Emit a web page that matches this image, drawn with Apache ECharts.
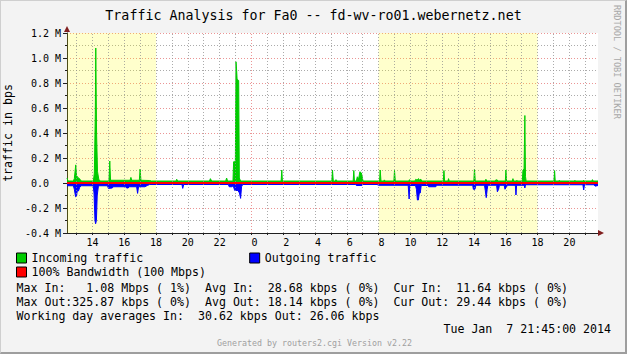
<!DOCTYPE html>
<html>
<head>
<meta charset="utf-8">
<title>Traffic Analysis for Fa0</title>
<script src="https://cdn.jsdelivr.net/npm/echarts@6/dist/echarts.min.js"></script>
<style>
  html, body { margin: 0; padding: 0; background: #f3f3f3; }
  #wrap { position: relative; width: 627px; height: 354px; }
  #chart { position: absolute; left: 0; top: 0; width: 627px; height: 354px; }
  #frame {
    position: absolute; left: 0; top: 0; width: 627px; height: 354px;
    box-sizing: border-box; pointer-events: none;
    border-top: 1px solid #cfcfcf; border-left: 1px solid #cfcfcf;
    border-right: 2px solid #9e9e9e; border-bottom: 2px solid #9e9e9e;
  }
</style>
</head>
<body>
<div id="wrap">
  <div id="chart"></div>
  <div id="frame"></div>
</div>
<script>
// x values are hours counted from Jan 6 00:00 (24 = midnight to Jan 7)
const xMin = 12.4
const xMax = 45.8
const labelHours = [14, 16, 18, 20, 22, 24, 26, 28, 30, 32, 34, 36, 38, 40, 42, 44]
const gridHours = [13, 14, 15, 16, 17, 18, 19, 20, 21, 22, 23, 24, 25, 26, 27, 28, 29,
  30, 31, 32, 33, 34, 35, 36, 37, 38, 39, 40, 41, 42, 43, 44, 45]
const midnightHours = [24]
const workHours = [[8, 18], [32, 42]]

// values in M (million bits per second)
const incoming = [
  [12.40, 0.040], [12.46, 0.016], [12.80, 0.016], [12.86, 0.035], [12.95, 0.145], [13.00, 0.060],
  [13.08, 0.045], [13.22, 0.030], [13.30, 0.016],
  [14.06, 0.016], [14.12, 0.080], [14.18, 0.550], [14.21, 1.080], [14.26, 0.400], [14.32, 0.090],
  [14.40, 0.030], [14.48, 0.016],
  [15.04, 0.016], [15.09, 0.176], [15.14, 0.022], [16.37, 0.022], [16.42, 0.045], [16.47, 0.022],
  [16.95, 0.022], [17.00, 0.112], [17.05, 0.022], [17.60, 0.020], [17.70, 0.016],
  [19.26, 0.016], [19.30, 0.030], [19.36, 0.016], [21.36, 0.016], [21.42, 0.035], [21.50, 0.016],
  [22.38, 0.016], [22.44, 0.040], [22.50, 0.016],
  [22.84, 0.016], [22.88, 0.170], [22.99, 0.170], [23.03, 0.970], [23.07, 0.900], [23.10, 0.830],
  [23.20, 0.820], [23.24, 0.040], [23.32, 0.016],
  [25.87, 0.016], [25.91, 0.104], [25.95, 0.016],
  [29.06, 0.016], [29.10, 0.104], [29.15, 0.016], [29.28, 0.016], [29.32, 0.027], [29.38, 0.016],
  [30.40, 0.016], [30.44, 0.100], [30.48, 0.016], [30.60, 0.016], [30.66, 0.050], [30.74, 0.030],
  [30.82, 0.090], [30.92, 0.080], [31.02, 0.016],
  [32.06, 0.016], [32.10, 0.104], [32.15, 0.016], [32.32, 0.016], [32.36, 0.025], [32.40, 0.016],
  [32.96, 0.016], [33.00, 0.100], [33.05, 0.016],
  [33.90, 0.016], [33.94, 0.027], [33.98, 0.016],
  [34.28, 0.016], [34.34, 0.030], [34.42, 0.022], [34.50, 0.035], [34.58, 0.025], [34.66, 0.030],
  [34.72, 0.016],
  [36.07, 0.016], [36.11, 0.100], [36.15, 0.016], [36.36, 0.016], [36.40, 0.035], [36.44, 0.016],
  [37.99, 0.016], [38.03, 0.112], [38.08, 0.016], [38.71, 0.016], [38.75, 0.030], [38.80, 0.016],
  [39.33, 0.016], [39.37, 0.025], [39.46, 0.025], [39.50, 0.016],
  [39.97, 0.016], [40.01, 0.104], [40.05, 0.016], [40.41, 0.016], [40.45, 0.035], [40.49, 0.016],
  [40.66, 0.016], [40.70, 0.022], [40.74, 0.016],
  [41.04, 0.016], [41.08, 0.104], [41.15, 0.110], [41.20, 0.540], [41.24, 0.050], [41.28, 0.016],
  [43.03, 0.016], [43.07, 0.100], [43.11, 0.016], [43.32, 0.016], [43.36, 0.022], [43.40, 0.016],
  [44.31, 0.016], [44.35, 0.022], [44.39, 0.016], [44.86, 0.016], [44.90, 0.022], [44.94, 0.016],
  [45.41, 0.016], [45.45, 0.027], [45.50, 0.016], [45.80, 0.016]
]

const outgoing = [
  [12.40, -0.022], [12.80, -0.022], [12.86, -0.050], [12.94, -0.110], [13.00, -0.105], [13.05, -0.060],
  [13.12, -0.064], [13.20, -0.035], [13.28, -0.022],
  [14.05, -0.022], [14.10, -0.080], [14.16, -0.300], [14.20, -0.326], [14.25, -0.300], [14.30, -0.100],
  [14.37, -0.030], [14.45, -0.022],
  [14.95, -0.022], [15.00, -0.043], [15.25, -0.040], [15.30, -0.030], [16.10, -0.030], [16.15, -0.040],
  [16.25, -0.040], [16.30, -0.030], [16.78, -0.030], [16.84, -0.083], [16.90, -0.030], [17.30, -0.030],
  [17.45, -0.020], [17.60, -0.012],
  [19.63, -0.012], [19.68, -0.043], [19.74, -0.012],
  [22.55, -0.012], [22.60, -0.030], [22.77, -0.030], [22.85, -0.022], [22.95, -0.060], [23.15, -0.060],
  [23.25, -0.080], [23.32, -0.123], [23.38, -0.030], [23.45, -0.012],
  [30.55, -0.012], [30.60, -0.020], [30.95, -0.020], [31.00, -0.012],
  [31.90, -0.012], [32.00, -0.018],
  [33.86, -0.018], [33.92, -0.128], [33.96, -0.020],
  [34.32, -0.020], [34.38, -0.050], [34.44, -0.136], [34.50, -0.136], [34.56, -0.080], [34.62, -0.080],
  [34.68, -0.020],
  [35.10, -0.020], [35.15, -0.030], [35.60, -0.030], [35.65, -0.018],
  [37.92, -0.018], [37.96, -0.050], [38.06, -0.050], [38.12, -0.018],
  [38.66, -0.018], [38.71, -0.060], [38.77, -0.117], [38.83, -0.050], [38.87, -0.018],
  [39.42, -0.018], [39.47, -0.070], [39.55, -0.050], [39.60, -0.018],
  [39.90, -0.018], [39.95, -0.050], [40.05, -0.030], [40.10, -0.018],
  [40.60, -0.018], [40.64, -0.096], [40.68, -0.018],
  [41.16, -0.018], [41.20, -0.040], [41.24, -0.014],
  [44.85, -0.014], [44.90, -0.056], [44.95, -0.014], [45.55, -0.014], [45.62, -0.025], [45.80, -0.020]
]

// 100 Mbps bandwidth rule (far above the visible range), plus the red zero rule
const bandwidthLevel = 100
const zeroRule = 0

const statLines = [
  'Max In:   1.08 Mbps ( 1%)  Avg In:  28.68 kbps ( 0%)  Cur In:  11.64 kbps ( 0%)',
  'Max Out:325.87 kbps ( 0%)  Avg Out: 18.14 kbps ( 0%)  Cur Out: 29.44 kbps ( 0%)',
  'Working day averages In:  30.62 kbps Out: 26.06 kbps'
]
const stampText = 'Tue Jan  7 21:45:00 2014'
const footerText = 'Generated by routers2.cgi Version v2.22'
const sideText = 'RRDTOOL / TOBI OETIKER'

const mono = '"DejaVu Sans Mono", "Liberation Mono", monospace'
const keep = s => s.replace(/ /g, '\u00a0')

const minorGrid = { color: 'rgba(143,143,143,0.75)', width: 1, type: [1, 2] }
const majorGrid = { color: 'rgba(222,79,79,0.6)', width: 1, type: [1, 2] }

const chart = echarts.init(document.getElementById('chart'), null, { renderer: 'svg' })

const option = {
  animation: false,
  backgroundColor: 'transparent',
  title: {
    text: 'Traffic Analysis for Fa0 -- fd-wv-ro01.webernetz.net',
    left: 'center',
    top: 9,
    padding: 0,
    textStyle: { fontFamily: mono, fontSize: 13.3, fontWeight: 'normal', color: '#000' }
  },
  grid: {
    left: 67, right: 29, top: 33, bottom: 121,
    outerBoundsMode: 'none', containLabel: false,
    show: true, backgroundColor: '#fff', borderWidth: 0
  },
  legend: [
    {
      data: ['Incoming traffic', 'Outgoing traffic'],
      left: 16, top: 252, padding: 0, itemGap: 106,
      itemWidth: 10, itemHeight: 10, icon: 'rect', selectedMode: false,
      itemStyle: { borderColor: '#000', borderWidth: 1 },
      textStyle: { fontFamily: mono, fontSize: 11.6, color: '#000' }
    },
    {
      data: ['100% Bandwidth (100 Mbps)'],
      left: 16, top: 266, padding: 0,
      itemWidth: 10, itemHeight: 10, icon: 'rect', selectedMode: false,
      itemStyle: { borderColor: '#000', borderWidth: 1 },
      textStyle: { fontFamily: mono, fontSize: 11.6, color: '#000' }
    }
  ],
  xAxis: [
    {
      type: 'value', min: xMin, max: xMax,
      axisLine: { show: true, onZero: false, lineStyle: { color: '#1f1f1f', width: 1 } },
      axisTick: { show: true, customValues: gridHours, length: 2, lineStyle: { color: '#1f1f1f' } },
      axisLabel: {
        customValues: labelHours, margin: 4,
        fontFamily: mono, fontSize: 10, color: '#000',
        formatter: v => { const h = v % 24; return h < 10 ? '\u00a0' + h : String(h) }
      },
      splitLine: { show: false }
    },
    {
      // arrow head only
      type: 'value', min: xMin, max: xMax, position: 'bottom',
      axisLine: { show: true, onZero: false, symbol: ['none', 'triangle'], symbolSize: [6, 6], symbolOffset: [0, 3],
        lineStyle: { color: '#801f1f', width: 0 } },
      axisTick: { show: false }, axisLabel: { show: false }, splitLine: { show: false }
    }
  ],
  yAxis: [
    {
      type: 'value', min: -0.4, max: 1.2, interval: 0.2,
      name: 'traffic in bps', nameLocation: 'middle', nameGap: 49,
      nameTextStyle: { fontFamily: mono, fontSize: 11.6, color: '#000' },
      axisLine: { show: true, onZero: false, lineStyle: { color: '#1f1f1f', width: 1 } },
      axisTick: { show: true, length: 4, lineStyle: { color: '#1f1f1f' } },
      minorTick: { show: true, splitNumber: 2, length: 2, lineStyle: { color: '#1f1f1f' } },
      axisLabel: {
        margin: 6, fontFamily: mono, fontSize: 10, color: '#000',
        formatter: v => Math.abs(v) < 1e-9 ? '0.0\u00a0\u00a0' : v.toFixed(1) + '\u00a0M'
      },
      splitLine: { show: true, lineStyle: majorGrid },
      minorSplitLine: { show: true, lineStyle: minorGrid }
    },
    {
      type: 'value', min: -0.4, max: 1.2, position: 'left', offset: 0,
      axisLine: { show: true, onZero: false, symbol: ['none', 'triangle'], symbolSize: [6, 6], symbolOffset: [0, 4],
        lineStyle: { color: '#801f1f', width: 0 } },
      axisTick: { show: false }, axisLabel: { show: false }, splitLine: { show: false }
    }
  ],
  graphic: [
    ...statLines.map((t, i) => ({
      type: 'text', x: 16.5, y: 287.5 + i * 14, silent: true,
      style: { text: keep(t), font: '11.6px ' + mono, fill: '#000', verticalAlign: 'middle' }
    })),
    {
      type: 'text', x: 611, y: 329, silent: true,
      style: { text: keep(stampText), font: '11.6px ' + mono, fill: '#000', align: 'right', verticalAlign: 'middle' }
    },
    {
      type: 'text', x: 314.5, y: 343, silent: true,
      style: { text: keep(footerText), font: '8.3px ' + mono, fill: '#a0a0a0', align: 'center', verticalAlign: 'middle' }
    },
    {
      type: 'text', x: 617, y: 5, rotation: -Math.PI / 2, silent: true,
      style: { text: keep(sideText), font: '8.6px ' + mono, fill: '#a8a8a8', align: 'left', verticalAlign: 'middle' }
    }
  ],
  series: [
    {
      name: 'work hours', type: 'line', data: [], z: 1, silent: true,
      markArea: {
        silent: true,
        itemStyle: { color: 'rgba(255,255,0,0.2)' },
        data: workHours.map(([a, b]) => [{ xAxis: Math.max(a, xMin) }, { xAxis: Math.min(b, xMax) }])
      }
    },
    {
      name: 'hour grid', type: 'line', data: [], z: 1, silent: true,
      markLine: {
        silent: true, symbol: 'none', label: { show: false },
        data: gridHours.map(h => ({ xAxis: h, lineStyle: midnightHours.includes(h) ? majorGrid : minorGrid }))
      }
    },
    {
      name: 'Incoming traffic', type: 'line', data: incoming, symbol: 'none', z: 2,
      lineStyle: { color: '#00cc00', width: 1 },
      itemStyle: { color: '#00cc00' },
      areaStyle: { color: '#00cc00', opacity: 1 }
    },
    {
      name: 'Outgoing traffic', type: 'line', data: outgoing, symbol: 'none', z: 2,
      lineStyle: { color: '#0000ff', width: 1 },
      itemStyle: { color: '#0000ff' },
      areaStyle: { color: '#0000ff', opacity: 1 }
    },
    {
      name: '100% Bandwidth (100 Mbps)', type: 'line', symbol: 'none', z: 3,
      data: [[xMin, bandwidthLevel], [xMax, bandwidthLevel]],
      lineStyle: { color: '#ff0000', width: 2 },
      itemStyle: { color: '#ff0000' },
      markLine: {
        silent: true, symbol: 'none', label: { show: false },
        lineStyle: { color: '#ff0000', width: 2, type: 'solid' },
        data: [{ yAxis: zeroRule }]
      }
    }
  ]
}

chart.setOption(option)
</script>
</body>
</html>
